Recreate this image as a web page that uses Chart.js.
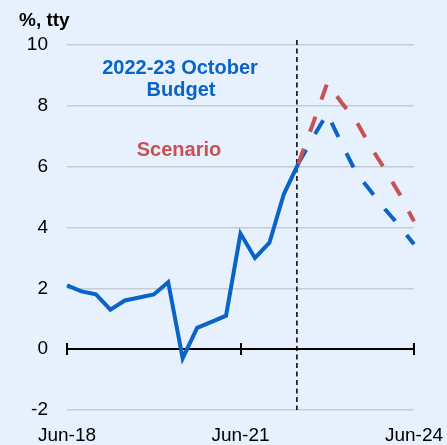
<!DOCTYPE html>
<html>
<head>
<meta charset="utf-8">
<script src="https://cdn.jsdelivr.net/npm/chart.js@4"></script>
<style>
  html, body { margin: 0; padding: 0; background: #E7F1FD; }
  #wrap { width: 447px; height: 445px; }
</style>
</head>
<body>
<div id="wrap"><canvas id="myChart" width="447" height="445"></canvas></div>
<script>
// quarters, Jun-18 .. Jun-24
const quarters = ['Jun-18','Sep-18','Dec-18','Mar-19','Jun-19','Sep-19','Dec-19','Mar-20',
  'Jun-20','Sep-20','Dec-20','Mar-21','Jun-21','Sep-21','Dec-21','Mar-22','Jun-22',
  'Sep-22','Dec-22','Mar-23','Jun-23','Sep-23','Dec-23','Mar-24','Jun-24'];
const xTickLabels = ['Jun-18', 'Jun-21', 'Jun-24'];
const yTicks = [-2, 0, 2, 4, 6, 8, 10];

const actual = [2.1, 1.9, 1.8, 1.3, 1.6, 1.7, 1.8, 2.2, -0.3, 0.7, 0.9, 1.1, 3.8, 3.0, 3.5, 5.1, 6.1,
  null, null, null, null, null, null, null, null];
const budget = [null, null, null, null, null, null, null, null, null, null, null, null, null, null, null, null,
  6.1, 6.95, 7.75, 6.75, 5.8, 5.2, 4.6, 4.05, 3.45];
const scenario = [null, null, null, null, null, null, null, null, null, null, null, null, null, null, null, null,
  6.1, 7.4, 8.75, 8.1, 7.5, 6.65, 5.9, 5.1, 4.2];

const BLUE = '#0A64C8';
const RED = '#C65254';
const GRID = '#C5CCD6';
const FONT = '"Liberation Sans", Arial, sans-serif';

// zero line, tick marks, x labels and the forecast divider
const axisPlugin = {
  id: 'axisPlugin',
  beforeDatasetsDraw(chart) {
    const {ctx, chartArea, scales: {x, y}} = chart;
    const y0 = Math.round(y.getPixelForValue(0));
    ctx.save();
    ctx.strokeStyle = '#000';
    ctx.lineWidth = 2;
    ctx.beginPath();
    ctx.moveTo(chartArea.left, y0);
    ctx.lineTo(chartArea.right, y0);
    xTickLabels.forEach(l => {
      const px = Math.round(x.getPixelForValue(quarters.indexOf(l)));
      ctx.moveTo(px, y0 - 6);
      ctx.lineTo(px, y0 + 6);
    });
    ctx.stroke();

    // dashed divider just before Jun-22
    const i = quarters.indexOf('Jun-22');
    const px = x.getPixelForValue(i) - 0.1 * (x.getPixelForValue(i) - x.getPixelForValue(i - 1));
    ctx.lineWidth = 1.5;
    ctx.setLineDash([5, 3.5]);
    ctx.beginPath();
    ctx.moveTo(px, chartArea.top - 5);
    ctx.lineTo(px, chartArea.bottom);
    ctx.stroke();
    ctx.restore();
  },
  afterDraw(chart) {
    const {ctx, chartArea, scales: {x}} = chart;
    ctx.save();
    ctx.fillStyle = '#000';
    ctx.textBaseline = 'alphabetic';
    ctx.font = '19px ' + FONT;
    ctx.textAlign = 'center';
    xTickLabels.forEach(l => {
      ctx.fillText(l, x.getPixelForValue(quarters.indexOf(l)), chartArea.bottom + 31);
    });

    ctx.font = 'bold 19px ' + FONT;
    ctx.textAlign = 'left';
    ctx.fillText('%, tty', 19, 26);

    ctx.textAlign = 'center';
    ctx.font = 'bold 20px ' + FONT;
    ctx.fillStyle = BLUE;
    ctx.fillText('2022-23 October', 180, 74);
    ctx.fillText('Budget', 181, 96);
    ctx.fillStyle = RED;
    ctx.fillText('Scenario', 179, 156);
    ctx.restore();
  }
};

const ctx = document.getElementById('myChart').getContext('2d');
const myChart = new Chart(ctx, {
  type: 'line',
  data: {
    labels: quarters,
    datasets: [
      {
        label: 'Actual',
        data: actual,
        borderColor: BLUE,
        borderWidth: 4,
        pointRadius: 0,
        tension: 0,
        order: 3
      },
      {
        label: '2022-23 October Budget',
        data: budget,
        borderColor: BLUE,
        borderWidth: 4,
        borderDash: [16, 18],
        pointRadius: 0,
        tension: 0,
        order: 2
      },
      {
        label: 'Scenario',
        data: scenario,
        borderColor: RED,
        borderWidth: 4,
        borderDash: [16, 18],
        pointRadius: 0,
        tension: 0,
        order: 1
      }
    ]
  },
  options: {
    responsive: false,
    animation: false,
    layout: { padding: { top: 45, right: 33, left: 0, bottom: 35 } },
    plugins: {
      legend: { display: false },
      tooltip: { enabled: false }
    },
    scales: {
      x: {
        grid: { display: false, drawTicks: false },
        border: { display: false },
        ticks: { display: false }
      },
      y: {
        min: -2,
        max: 10,
        afterFit: s => { s.width = 67; },
        afterBuildTicks: s => { s.ticks = yTicks.map(v => ({ value: v })); },
        grid: {
          drawTicks: false,
          lineWidth: 1.5,
          color: c => (c.tick && c.tick.value === 0) ? 'rgba(0,0,0,0)' : GRID
        },
        border: { display: false },
        ticks: {
          padding: 19,
          color: '#000',
          font: { family: FONT, size: 19 }
        }
      }
    }
  },
  plugins: [axisPlugin]
});
</script>
</body>
</html>
